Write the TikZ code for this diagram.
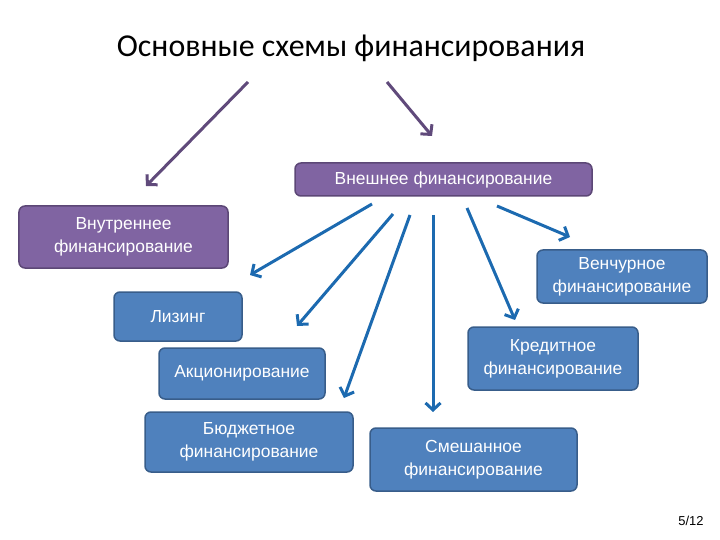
\documentclass[tikz,border=0pt]{standalone}
\usepackage{fontspec}
\setmainfont{Liberation Sans}
\newfontfamily\titlefont{Carlito}
\usetikzlibrary{arrows.meta}
\definecolor{purplefill}{HTML}{8064A2}
\definecolor{purpleline}{HTML}{5C4776}
\definecolor{purplearrow}{HTML}{604A7B}
\definecolor{bluefill}{HTML}{4F81BD}
\definecolor{blueline}{HTML}{385D8A}
\definecolor{bluearrow}{HTML}{1C6AB0}
\tikzset{
  box/.style={rounded corners=6bp, line width=1.5bp, text=white, align=center,
    inner sep=0pt, font=\fontsize{17.5}{23}\selectfont},
  purplebox/.style={box, fill=purplefill, draw=purpleline},
  bluebox/.style={box, fill=bluefill, draw=blueline},
  purplearr/.style={draw=purplearrow, line width=3bp, -{Straight Barb[length=7bp,width=15bp]}},
  bluearr/.style={draw=bluearrow, line width=3bp, -{Straight Barb[length=7bp,width=15bp]}}
}
\begin{document}
\begin{tikzpicture}[x=1bp, y=-1bp]
  \useasboundingbox (0, 0) rectangle (720, 540);
  \node (title) at (351, 48) {\titlefont\fontsize{32}{36}\selectfont Основные схемы финансирования};
  \node [purplebox, minimum width=297bp, minimum height=33bp] (ext) at (443.5, 179.5) {Внешнее финансирование};
  \node [purplebox, minimum width=209bp, minimum height=62bp] (int) at (123.5, 237) {Внутреннее\\финансирование};
  \node [bluebox, minimum width=128bp, minimum height=49bp] (lizing) at (178, 316.5) {Лизинг};
  \node [bluebox, minimum width=166bp, minimum height=51bp] (akc) at (242, 373.5) {Акционирование};
  \node [bluebox, minimum width=208bp, minimum height=60bp] (budg) at (249, 442) {Бюджетное\\финансирование};
  \node [bluebox, minimum width=207bp, minimum height=63bp] (smesh) at (473.5, 459.5) {Смешанное\\финансирование};
  \node [bluebox, minimum width=170bp, minimum height=63bp] (kred) at (553, 358.5) {Кредитное\\финансирование};
  \node [bluebox, minimum width=170bp, minimum height=53bp] (vench) at (622, 276.5) {Венчурное\\финансирование};
  \node [font=\fontsize{13}{15}\selectfont] (page) at (691, 521) {5/12};
  \coordinate (tl) at (248, 82);
  \coordinate (tr) at (387, 82);
  \coordinate (intend) at (146, 186);
  \coordinate (extend) at (432, 136);
  \draw [purplearr] (tl) -- (intend);
  \draw [purplearr] (tr) -- (extend);
  \coordinate (s1) at (372, 204);
  \coordinate (e1) at (250, 275);
  \coordinate (s2) at (393, 214);
  \coordinate (e2) at (297, 326);
  \coordinate (s3) at (410, 215);
  \coordinate (e3) at (344, 398);
  \coordinate (s4) at (433, 215);
  \coordinate (e4) at (433, 412);
  \coordinate (s5) at (467, 208);
  \coordinate (e5) at (515, 320);
  \coordinate (s6) at (497, 206);
  \coordinate (e6) at (570, 237);
  \foreach \i in {1,...,6}
    \draw [bluearr] (s\i) -- (e\i);
\end{tikzpicture}
\end{document}
